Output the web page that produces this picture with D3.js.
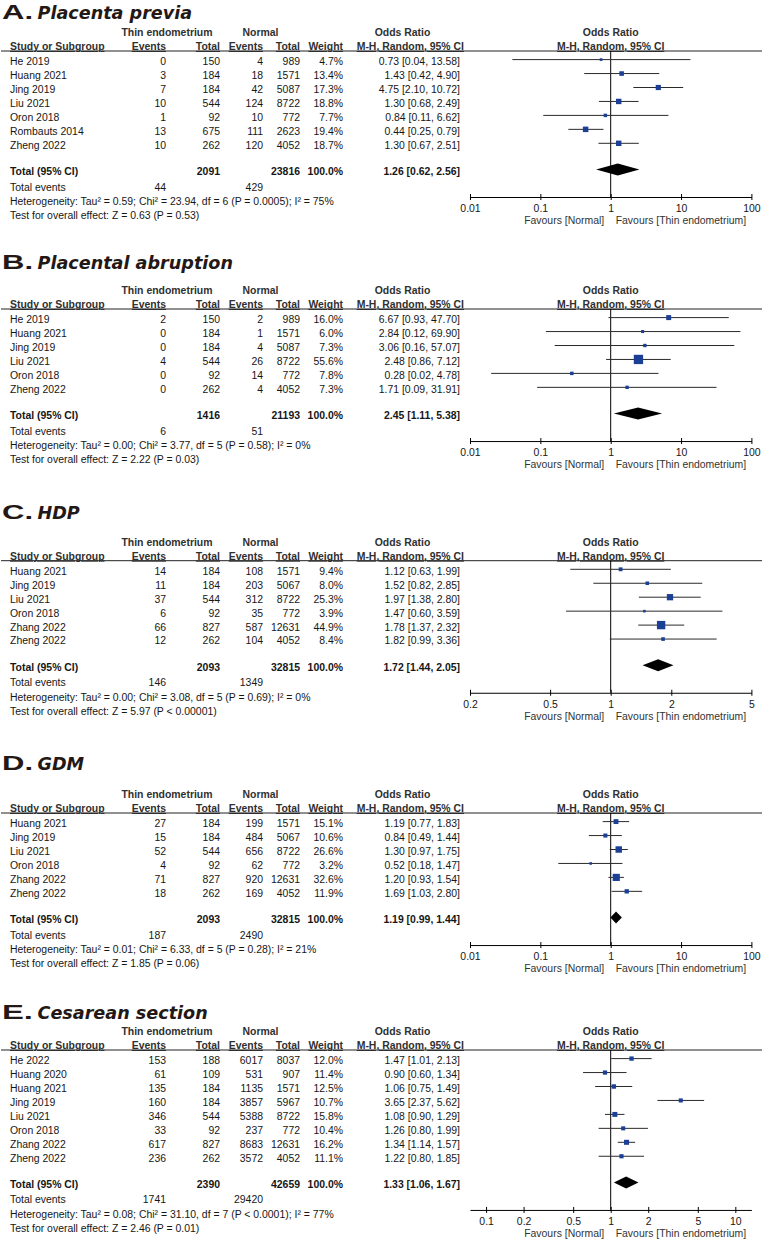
<!DOCTYPE html>
<html><head><meta charset="utf-8">
<script src="https://cdn.jsdelivr.net/npm/d3@7/dist/d3.min.js"></script>
<style>body{margin:0;background:#fff}svg{display:block}</style>
</head><body>
<svg id="c" width="762" height="1240"></svg>
<script>
// ---------- DATA ----------
const headers1 = ["Thin endometrium", "Normal", "Odds Ratio"];
const headers2 = ["Study or Subgroup", "Events", "Total", "Events", "Total", "Weight", "M-H, Random, 95% CI"];
const favours = ["Favours [Normal]", "Favours [Thin endometrium]"];

// A. Placenta previa
const studiesA = ["He 2019", "Huang 2021", "Jing 2019", "Liu 2021", "Oron 2018", "Rombauts 2014", "Zheng 2022"];
const evThinA = [0, 3, 7, 10, 1, 13, 10];
const totThinA = [150, 184, 184, 544, 92, 675, 262];
const evNormA = [4, 18, 42, 124, 10, 111, 120];
const totNormA = [989, 1571, 5087, 8722, 772, 2623, 4052];
const weightA = [4.7, 13.4, 17.3, 18.8, 7.7, 19.4, 18.7];
const orA = [0.73, 1.43, 4.75, 1.30, 0.84, 0.44, 1.30];
const loA = [0.04, 0.42, 2.10, 0.68, 0.11, 0.25, 0.67];
const hiA = [13.58, 4.90, 10.72, 2.49, 6.62, 0.79, 2.51];
const totalsA = [2091, 23816, 44, 429];
const pooledA = [1.26, 0.62, 2.56];
const hetA = "Heterogeneity: Tau\u00B2 = 0.59; Chi\u00B2 = 23.94, df = 6 (P = 0.0005); I\u00B2 = 75%";
const testA = "Test for overall effect: Z = 0.63 (P = 0.53)";
const ticksA = [0.01, 0.1, 1, 10, 100];
const tickLabelsA = ["0.01", "0.1", "1", "10", "100"];
const domainA = [0.01, 100];

// B. Placental abruption
const studiesB = ["He 2019", "Huang 2021", "Jing 2019", "Liu 2021", "Oron 2018", "Zheng 2022"];
const evThinB = [2, 0, 0, 4, 0, 0];
const totThinB = [150, 184, 184, 544, 92, 262];
const evNormB = [2, 1, 4, 26, 14, 4];
const totNormB = [989, 1571, 5087, 8722, 772, 4052];
const weightB = [16.0, 6.0, 7.3, 55.6, 7.8, 7.3];
const orB = [6.67, 2.84, 3.06, 2.48, 0.28, 1.71];
const loB = [0.93, 0.12, 0.16, 0.86, 0.02, 0.09];
const hiB = [47.70, 69.90, 57.07, 7.12, 4.78, 31.91];
const totalsB = [1416, 21193, 6, 51];
const pooledB = [2.45, 1.11, 5.38];
const hetB = "Heterogeneity: Tau\u00B2 = 0.00; Chi\u00B2 = 3.77, df = 5 (P = 0.58); I\u00B2 = 0%";
const testB = "Test for overall effect: Z = 2.22 (P = 0.03)";
const ticksB = [0.01, 0.1, 1, 10, 100];
const tickLabelsB = ["0.01", "0.1", "1", "10", "100"];
const domainB = [0.01, 100];

// C. HDP
const studiesC = ["Huang 2021", "Jing 2019", "Liu 2021", "Oron 2018", "Zhang 2022", "Zheng 2022"];
const evThinC = [14, 11, 37, 6, 66, 12];
const totThinC = [184, 184, 544, 92, 827, 262];
const evNormC = [108, 203, 312, 35, 587, 104];
const totNormC = [1571, 5067, 8722, 772, 12631, 4052];
const weightC = [9.4, 8.0, 25.3, 3.9, 44.9, 8.4];
const orC = [1.12, 1.52, 1.97, 1.47, 1.78, 1.82];
const loC = [0.63, 0.82, 1.38, 0.60, 1.37, 0.99];
const hiC = [1.99, 2.85, 2.80, 3.59, 2.32, 3.36];
const totalsC = [2093, 32815, 146, 1349];
const pooledC = [1.72, 1.44, 2.05];
const hetC = "Heterogeneity: Tau\u00B2 = 0.00; Chi\u00B2 = 3.08, df = 5 (P = 0.69); I\u00B2 = 0%";
const testC = "Test for overall effect: Z = 5.97 (P < 0.00001)";
const ticksC = [0.2, 0.5, 1, 2, 5];
const tickLabelsC = ["0.2", "0.5", "1", "2", "5"];
const domainC = [0.2, 5];

// D. GDM
const studiesD = ["Huang 2021", "Jing 2019", "Liu 2021", "Oron 2018", "Zhang 2022", "Zheng 2022"];
const evThinD = [27, 15, 52, 4, 71, 18];
const totThinD = [184, 184, 544, 92, 827, 262];
const evNormD = [199, 484, 656, 62, 920, 169];
const totNormD = [1571, 5067, 8722, 772, 12631, 4052];
const weightD = [15.1, 10.6, 26.6, 3.2, 32.6, 11.9];
const orD = [1.19, 0.84, 1.30, 0.52, 1.20, 1.69];
const loD = [0.77, 0.49, 0.97, 0.18, 0.93, 1.03];
const hiD = [1.83, 1.44, 1.75, 1.47, 1.54, 2.80];
const totalsD = [2093, 32815, 187, 2490];
const pooledD = [1.19, 0.99, 1.44];
const hetD = "Heterogeneity: Tau\u00B2 = 0.01; Chi\u00B2 = 6.33, df = 5 (P = 0.28); I\u00B2 = 21%";
const testD = "Test for overall effect: Z = 1.85 (P = 0.06)";
const ticksD = [0.01, 0.1, 1, 10, 100];
const tickLabelsD = ["0.01", "0.1", "1", "10", "100"];
const domainD = [0.01, 100];

// E. Cesarean section
const studiesE = ["He 2022", "Huang 2020", "Huang 2021", "Jing 2019", "Liu 2021", "Oron 2018", "Zhang 2022", "Zheng 2022"];
const evThinE = [153, 61, 135, 160, 346, 33, 617, 236];
const totThinE = [188, 109, 184, 184, 544, 92, 827, 262];
const evNormE = [6017, 531, 1135, 3857, 5388, 237, 8683, 3572];
const totNormE = [8037, 907, 1571, 5967, 8722, 772, 12631, 4052];
const weightE = [12.0, 11.4, 12.5, 10.7, 15.8, 10.4, 16.2, 11.1];
const orE = [1.47, 0.90, 1.06, 3.65, 1.08, 1.26, 1.34, 1.22];
const loE = [1.01, 0.60, 0.75, 2.37, 0.90, 0.80, 1.14, 0.80];
const hiE = [2.13, 1.34, 1.49, 5.62, 1.29, 1.99, 1.57, 1.85];
const totalsE = [2390, 42659, 1741, 29420];
const pooledE = [1.33, 1.06, 1.67];
const hetE = "Heterogeneity: Tau\u00B2 = 0.08; Chi\u00B2 = 31.10, df = 7 (P < 0.0001); I\u00B2 = 77%";
const testE = "Test for overall effect: Z = 2.46 (P = 0.01)";
const ticksE = [0.1, 0.2, 0.5, 1, 2, 5, 10];
const tickLabelsE = ["0.1", "0.2", "0.5", "1", "2", "5", "10"];
const domainE = [0.0743, 13.46];

const letters = ["A", "B", "C", "D", "E"];
const titles = ["Placenta previa", "Placental abruption", "HDP", "GDM", "Cesarean section"];

// ---------- build panel table ----------
const panels = [
  {studies: studiesA, evT: evThinA, totT: totThinA, evN: evNormA, totN: totNormA, w: weightA, or: orA, lo: loA, hi: hiA, totals: totalsA, pooled: pooledA, het: hetA, test: testA, ticks: ticksA, tl: tickLabelsA, domain: domainA},
  {studies: studiesB, evT: evThinB, totT: totThinB, evN: evNormB, totN: totNormB, w: weightB, or: orB, lo: loB, hi: hiB, totals: totalsB, pooled: pooledB, het: hetB, test: testB, ticks: ticksB, tl: tickLabelsB, domain: domainB},
  {studies: studiesC, evT: evThinC, totT: totThinC, evN: evNormC, totN: totNormC, w: weightC, or: orC, lo: loC, hi: hiC, totals: totalsC, pooled: pooledC, het: hetC, test: testC, ticks: ticksC, tl: tickLabelsC, domain: domainC},
  {studies: studiesD, evT: evThinD, totT: totThinD, evN: evNormD, totN: totNormD, w: weightD, or: orD, lo: loD, hi: hiD, totals: totalsD, pooled: pooledD, het: hetD, test: testD, ticks: ticksD, tl: tickLabelsD, domain: domainD},
  {studies: studiesE, evT: evThinE, totT: totThinE, evN: evNormE, totN: totNormE, w: weightE, or: orE, lo: loE, hi: hiE, totals: totalsE, pooled: pooledE, het: hetE, test: testE, ticks: ticksE, tl: tickLabelsE, domain: domainE}
];

// ---------- layout (positions only) ----------
const layout = [
  {titleY: 19, lineY: 51},
  {titleY: 269, lineY: 309},
  {titleY: 519, lineY: 560.7},
  {titleY: 770, lineY: 813},
  {titleY: 1019, lineY: 1050}
];
const FONT = 'Arial, "Liberation Sans", Helvetica, sans-serif';
const FS = 10.45;
const ROW = 13.95;
const colX = {name: 10, evT: 166, totT: 220, evN: 263, totN: 300, w: 343, ci: 460};
const TXT = "#161616", HDR = "#303030", TITLE = "#231815", BLUE = "#1c3f96";
const plotRange = [470, 751.4];

const f2 = d3.format(".2f"), f1 = d3.format(".1f");
const ciText = (o, l, h) => `${f2(o)} [${f2(l)}, ${f2(h)}]`;

const svg = d3.select("#c");

function txt(g, x, y, s, anchor, opts = {}) {
  return g.append("text").attr("x", x).attr("y", y).attr("text-anchor", anchor || "start")
    .attr("font-family", FONT).attr("font-size", opts.size || FS)
    .attr("font-weight", opts.bold ? "bold" : "normal")
    .attr("fill", opts.fill || TXT)
    .style("text-decoration", opts.underline ? "underline" : null)
    .text(s);
}

panels.forEach((p, k) => {
  const L = layout[k];
  const g = svg.append("g");
  const BL = 3.7; // center -> baseline

  // title
  g.append("text").attr("x", 2).attr("y", L.titleY)
    .attr("font-family", FONT).attr("font-weight", "bold").attr("font-size", 20)
    .attr("fill", TITLE).attr("textLength", 31).attr("lengthAdjust", "spacingAndGlyphs")
    .text(letters[k] + ".");
  g.append("text").attr("x", 37.5).attr("y", L.titleY)
    .attr("font-family", '"DejaVu Sans", sans-serif').attr("font-weight", "bold")
    .attr("font-style", "oblique").attr("font-size", 17.6).attr("fill", TITLE)
    .text(titles[k]);

  // headers
  const h1 = L.lineY - 18.5 + BL, h2 = L.lineY - 4.8 + BL;
  txt(g, 167, h1, headers1[0], "middle", {bold: true, fill: HDR});
  txt(g, 260.5, h1, headers1[1], "middle", {bold: true, fill: HDR});
  txt(g, 402.5, h1, headers1[2], "middle", {bold: true, fill: HDR});
  const hx = [colX.name, colX.evT, colX.totT, colX.evN, colX.totN, colX.w, 464];
  headers2.forEach((h, i) => txt(g, hx[i], h2, h, i === 0 ? "start" : "end", {bold: true, fill: HDR, underline: true}));
  // forest headers
  const x = d3.scaleLog().domain(p.domain).range(plotRange);
  txt(g, x(1), h1, headers1[2], "middle", {bold: true, fill: HDR});
  txt(g, x(1), h2, headers2[6], "middle", {bold: true, fill: HDR, underline: true});

  g.append("line").attr("x1", 1).attr("x2", 762).attr("y1", L.lineY).attr("y2", L.lineY)
    .attr("stroke", "#222").attr("stroke-width", 1);

  // rows
  const rowC = i => L.lineY + 10.3 + i * ROW;
  p.studies.forEach((s, i) => {
    const yb = rowC(i) + BL;
    txt(g, colX.name, yb, s, "start");
    txt(g, colX.evT, yb, p.evT[i], "end");
    txt(g, colX.totT, yb, p.totT[i], "end");
    txt(g, colX.evN, yb, p.evN[i], "end");
    txt(g, colX.totN, yb, p.totN[i], "end");
    txt(g, colX.w, yb, f1(p.w[i]) + "%", "end");
    txt(g, colX.ci, yb, ciText(p.or[i], p.lo[i], p.hi[i]), "end");
  });
  const n = p.studies.length;
  const totC = rowC(n - 1) + 26.5;
  const tb = totC + BL;
  txt(g, colX.name, tb, "Total (95% CI)", "start", {bold: true});
  txt(g, colX.totT, tb, p.totals[0], "end", {bold: true});
  txt(g, colX.totN, tb, p.totals[1], "end", {bold: true});
  txt(g, colX.w, tb, "100.0%", "end", {bold: true});
  txt(g, colX.ci, tb, ciText(p.pooled[0], p.pooled[1], p.pooled[2]), "end", {bold: true});
  txt(g, colX.name, totC + 15.3 + BL, "Total events", "start");
  txt(g, colX.evT, totC + 15.3 + BL, p.totals[2], "end");
  txt(g, colX.evN, totC + 15.3 + BL, p.totals[3], "end");
  txt(g, colX.name, totC + 29.7 + BL, p.het, "start");
  txt(g, colX.name, totC + 43.9 + BL, p.test, "start");

  // forest
  const axisY = totC + 25.5;
  g.append("line").attr("x1", x(1)).attr("x2", x(1)).attr("y1", L.lineY).attr("y2", axisY)
    .attr("stroke", "#000").attr("stroke-width", 1);

  const mk = g.append("g");
  p.studies.forEach((s, i) => {
    const y = rowC(i) - 1.7;
    mk.append("line").attr("x1", x(p.lo[i])).attr("x2", x(p.hi[i])).attr("y1", y).attr("y2", y)
      .attr("stroke", "#2a2a2a").attr("stroke-width", 1);
    const sz = Math.max(2.6, 1.25 * Math.sqrt(p.w[i]));
    mk.append("rect").attr("x", x(p.or[i]) - sz / 2).attr("y", y - sz / 2)
      .attr("width", sz).attr("height", sz).attr("fill", BLUE);
  });
  const dy = totC - 2, dh = 6;
  const pts = [[x(p.pooled[1]), dy], [x(p.pooled[0]), dy - dh], [x(p.pooled[2]), dy], [x(p.pooled[0]), dy + dh]];
  g.append("path").attr("d", d3.line()(pts) + "Z").attr("fill", "#000");

  const axis = d3.axisBottom(x).tickValues(p.ticks).tickFormat((d, i) => p.tl[i])
    .tickSize(3).tickSizeOuter(0).tickPadding(4.4);
  const ax = g.append("g").attr("transform", `translate(0,${axisY})`).call(axis)
    .attr("font-family", FONT).attr("font-size", FS);
  ax.select(".domain").attr("stroke", "#000");
  ax.selectAll(".tick line").attr("y1", -3).attr("y2", 3).attr("stroke", "#000");
  ax.selectAll(".tick text").attr("fill", TXT);

  txt(g, x(1) - 6.5, axisY + 23.4 + BL, favours[0], "end", {fill: "#333"});
  txt(g, x(1) + 5, axisY + 23.4 + BL, favours[1], "start", {fill: "#333"});
});
</script>
</body></html>
